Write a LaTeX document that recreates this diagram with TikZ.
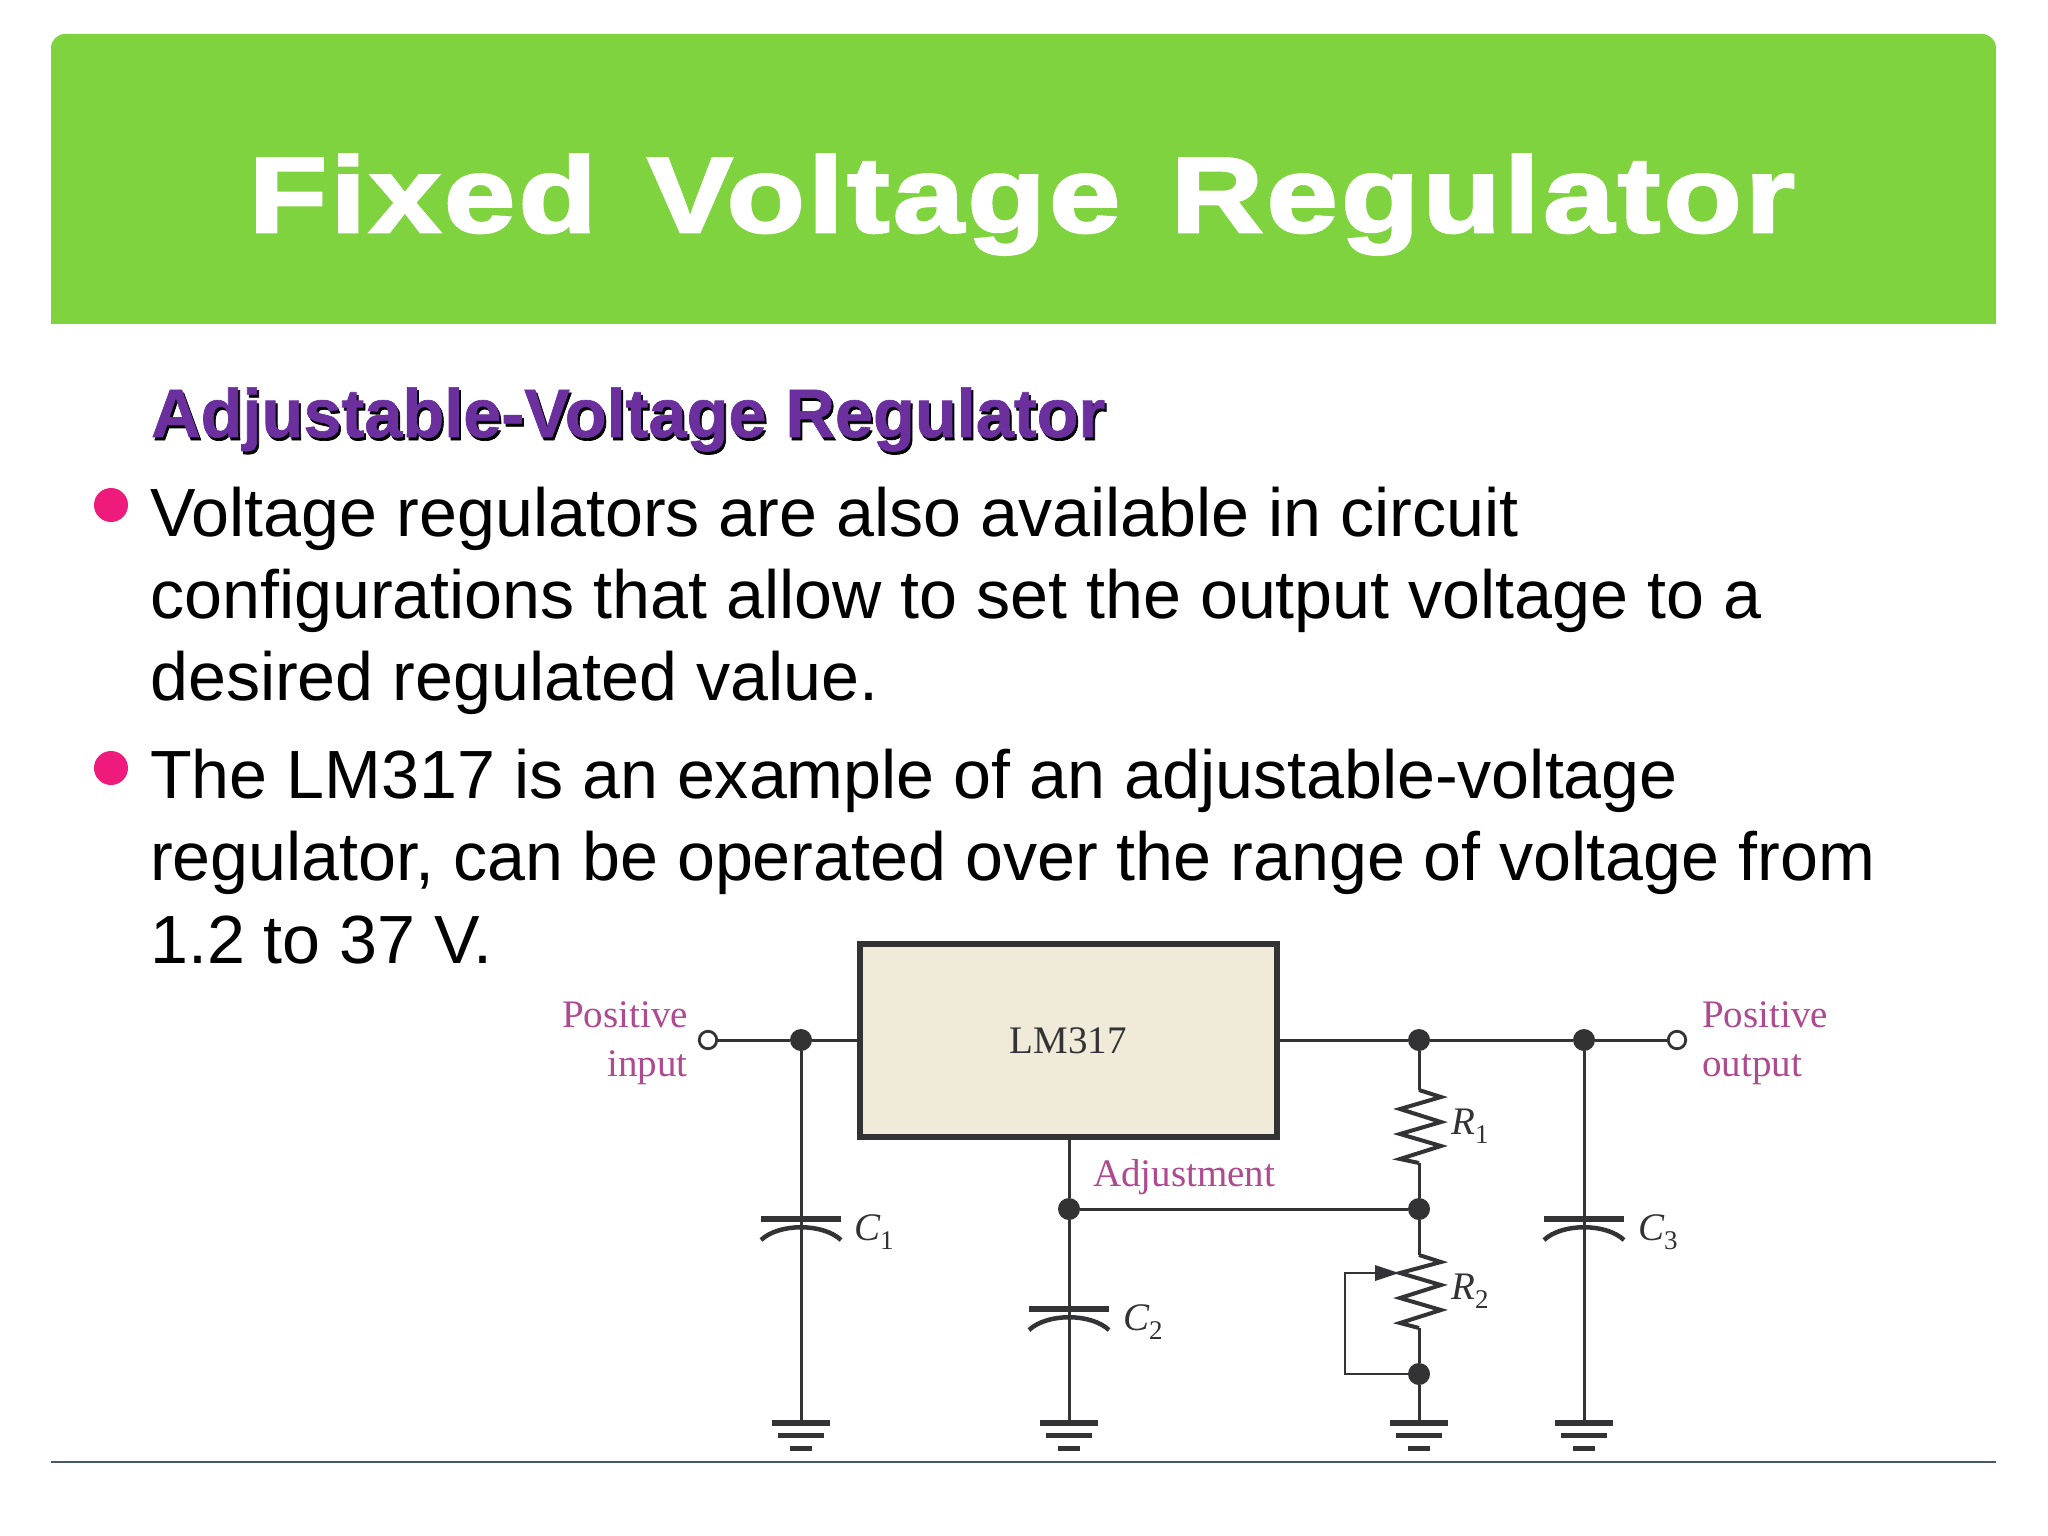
\documentclass[tikz,border=0pt]{standalone}
\usepackage{fontspec}
\setmainfont{Liberation Sans}
\newfontfamily\serifcirc{Liberation Serif}
\newfontfamily\titlefont[FakeStretch=1.195,LetterSpace=3.2,FakeBold=2.5,WordSpace=1.3]{Liberation Sans Bold}
\newfontfamily\headfont[FakeBold=1]{Liberation Sans Bold}
\usetikzlibrary{arrows.meta}
\definecolor{ttlgreen}{HTML}{7FD33F}
\definecolor{headpurple}{HTML}{6B2F9E}
\definecolor{bulletpink}{HTML}{EE1A7C}
\definecolor{rulecol}{HTML}{46586F}
\definecolor{wirecol}{HTML}{333336}
\definecolor{lblpink}{HTML}{AE4A90}
\definecolor{boxfill}{HTML}{F0EAD8}
\tikzset{
  x=1pt,y=-1pt,
  body/.style={anchor=base west,inner sep=0pt,font=\fontsize{68.2}{68.2}\selectfont,text=black},
  head/.style={anchor=base west,inner sep=0pt,font=\fontsize{68.5}{68.5}\selectfont\headfont},
  bullet/.style={circle,fill=bulletpink,minimum size=34pt,inner sep=0pt},
  wire/.style={draw=wirecol,line width=3pt},
  dot/.style={circle,fill=wirecol,minimum size=22pt,inner sep=0pt},
  term/.style={circle,draw=wirecol,fill=white,line width=2.8pt,minimum size=17.5pt,inner sep=0pt,outer sep=0pt},
  lbl/.style={inner sep=0pt,text=lblpink,font=\fontsize{39}{39}\selectfont\serifcirc},
  val/.style={inner sep=0pt,anchor=base west,text=wirecol,font=\fontsize{39}{39}\selectfont\serifcirc\itshape},
  gnd/.pic={
    \fill[wirecol] (-29,-3) rectangle (29,3);
    \fill[wirecol] (-23,9.5) rectangle (23,15);
    \fill[wirecol] (-11,22.5) rectangle (11,28);
  },
  capac/.pic={
    \fill[wirecol] (-40,-3) rectangle (40,3);
    \draw[wirecol,line width=4.5pt] (-40,21) .. controls (-22,4) and (22,4) .. (40,21);
  },
}
\newcommand{\subs}[1]{\raisebox{-9pt}{\fontsize{27}{27}\selectfont\upshape #1}}
\begin{document}
\begin{tikzpicture}
\useasboundingbox (0,0) rectangle (2048,1536);
\fill[white] (0,0) rectangle (2048,1536);
% title band
\fill[ttlgreen,rounded corners=14pt] (51,34) rectangle (1996,60);
\fill[ttlgreen] (51,46) rectangle (1996,324);
\node[anchor=base,inner sep=0pt,text=white,font=\fontsize{107}{107}\selectfont\titlefont] (title) at (1022,232) {Fixed Voltage Regulator};
% heading with shadow
\node[head,text=black] (headshadow) at (153,440) {Adjustable-Voltage Regulator};
\node[head,text=headpurple] (heading) at (151,437) {Adjustable-Voltage Regulator};
% bullets
\node[bullet] (b1) at (111,505) {};
\node[bullet] (b2) at (111,768) {};
\node[body] (l1) at (150,536) {Voltage regulators are also available in circuit};
\node[body] (l2) at (150,618) {configurations that allow to set the output voltage to a};
\node[body] (l3) at (150,700) {desired regulated value.};
\node[body] (l4) at (150,798) {The LM317 is an example of an adjustable-voltage};
\node[body] (l5) at (150,880) {regulator, can be operated over the range of voltage from};
\node[body] (l6) at (150,963) {1.2 to 37 V.};
% bottom rule
\coordinate (ruleL) at (51,1462);
\coordinate (ruleR) at (1996,1462);
\draw[rulecol,line width=2.4pt] (ruleL) -- (ruleR);
% regulator
\node[draw=wirecol,fill=boxfill,line width=6pt,outer sep=0pt,minimum width=417pt,minimum height=193pt,inner sep=0pt,anchor=north west] (reg) at (860,944) {};
\node[inner sep=0pt,anchor=base,text=wirecol,font=\fontsize{39}{39}\selectfont\serifcirc] (regname) at (1068,1053) {LM317};
% junctions and terminals
\node[term] (tin) at (708,1040) {};
\node[dot] (jin) at (801,1040) {};
\node[dot] (jr) at (1419,1040) {};
\node[dot] (jc) at (1584,1040) {};
\node[term] (tout) at (1677,1040) {};
\node[dot] (jadj) at (1069,1209) {};
\node[dot] (jmid) at (1419,1209) {};
\node[dot] (jlow) at (1419,1374) {};
% ground / element anchors
\coordinate (g1) at (801,1423);
\coordinate (g2) at (1069,1423);
\coordinate (g3) at (1419,1423);
\coordinate (g4) at (1584,1423);
\coordinate (r1t) at (1419,1090);
\coordinate (r1b) at (1419,1163);
\coordinate (r2t) at (1419,1255);
\coordinate (r2b) at (1419,1328);
\coordinate (wipe) at (1399,1273);
\coordinate (wc1) at (1345,1273);
\coordinate (wc2) at (1345,1374);
% wires
\draw[wire] (tin) -- (jin);
\draw[wire] (jin) -- (reg.west |- jin);
\draw[wire] (reg.east |- jr) -- (jr);
\draw[wire] (jr) -- (jc);
\draw[wire] (jc) -- (tout);
\draw[wire] (jin) -- (g1);
\draw[wire] (reg.south -| jadj) -- (jadj);
\draw[wire] (jadj) -- (g2);
\draw[wire] (jadj) -- (jmid);
\draw[wire] (jc) -- (g4);
\draw[wire] (jr) -- (r1t);
\draw[wire] (r1b) -- (jmid);
\draw[wire] (jmid) -- (r2t);
\draw[wire] (r2b) -- (jlow);
\draw[wire] (jlow) -- (g3);
% resistors
\draw[wirecol,line width=4pt,miter limit=10] (r1t) -- ++(22,7) -- ++(-41,12) -- ++(41,13) -- ++(-41,12) -- ++(41,12) -- ++(-41,13) -- (r1b);
\draw[wirecol,line width=4pt,miter limit=10] (r2t) -- ++(22,7) -- ++(-41,11) -- ++(41,12) -- ++(-41,13) -- ++(41,12) -- ++(-41,13) -- (r2b);
% wiper
\draw[wire,line width=2.6pt] (wipe) -- (wc1) -- (wc2) -- (jlow);
\fill[wirecol] (wipe) -- ++(-24,-8) -- ++(0,16) -- cycle;
% capacitors
\pic at (801,1219) {capac};
\pic at (1069,1309) {capac};
\pic at (1584,1219) {capac};
% grounds
\pic at (g1) {gnd};
\pic at (g2) {gnd};
\pic at (g3) {gnd};
\pic at (g4) {gnd};
% labels
\node[lbl,anchor=base east] (pi1) at (688,1027) {Positive};
\node[lbl,anchor=base east] (pi2) at (688,1076) {input};
\node[lbl,anchor=base west] (po1) at (1702,1027) {Positive};
\node[lbl,anchor=base west] (po2) at (1702,1076) {output};
\node[lbl,anchor=base west] (adj) at (1093,1186) {Adjustment};
\node[val] (c1) at (854,1240) {C\subs{1}};
\node[val] (c2) at (1123,1330) {C\subs{2}};
\node[val] (c3) at (1638,1240) {C\subs{3}};
\node[val] (r1) at (1451,1134) {R\subs{1}};
\node[val] (r2) at (1451,1299) {R\subs{2}};
\end{tikzpicture}
\end{document}
